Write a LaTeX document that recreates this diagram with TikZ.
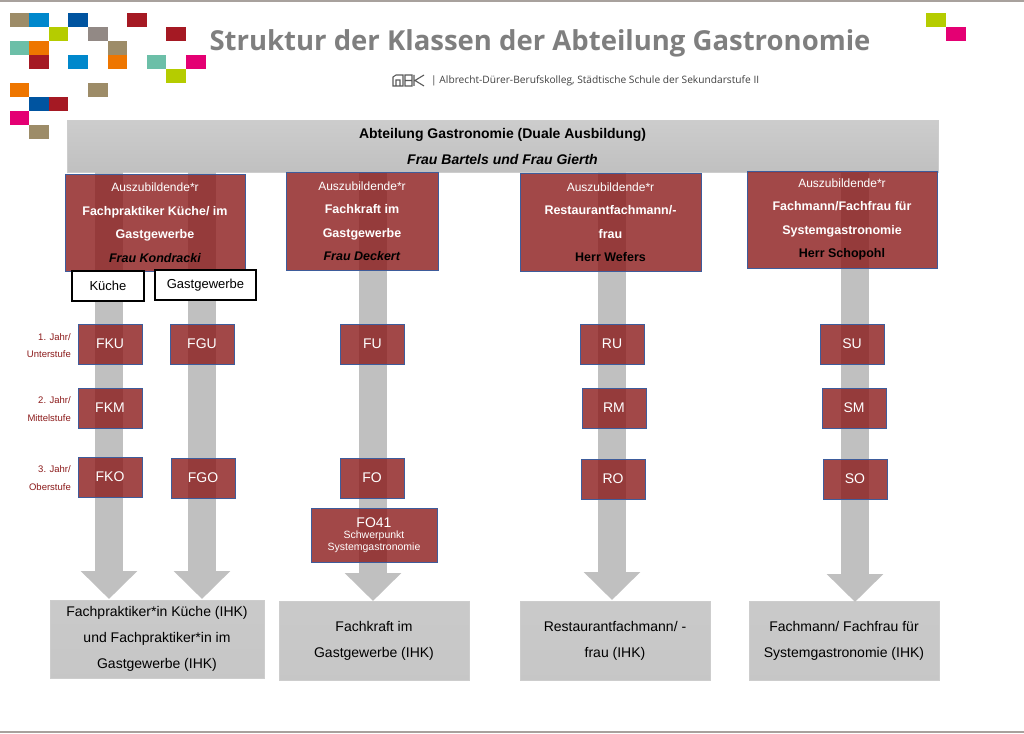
\documentclass[tikz,border=0pt]{standalone}
\usepackage{fontspec}
\setmainfont{Liberation Sans}
\newfontfamily\titlefont{Open Sans}
\usetikzlibrary{arrows.meta}
\definecolor{RedClr}{RGB}{139, 26, 26}
\definecolor{EdgeClr}{RGB}{62, 92, 155}
\definecolor{ArrowClr}{RGB}{192, 192, 192}
\definecolor{TitleClr}{RGB}{127, 127, 127}
\definecolor{TanClr}{RGB}{157, 140, 104}
\definecolor{BlueClr}{RGB}{0, 136, 204}
\definecolor{NavyClr}{RGB}{0, 84, 160}
\definecolor{LimeClr}{RGB}{181, 204, 0}
\definecolor{GrayClr}{RGB}{146, 137, 133}
\definecolor{BrickClr}{RGB}{165, 25, 35}
\definecolor{TealClr}{RGB}{108, 191, 168}
\definecolor{OrangeClr}{RGB}{238, 118, 0}
\definecolor{PinkClr}{RGB}{228, 0, 115}
\tikzset{
  redbox/.style={draw=EdgeClr,line width=1pt,fill=RedClr,fill opacity=.8,text opacity=1,
    text=white,inner sep=0pt,align=center},
  classbox/.style={redbox,font=\fontsize{14}{16}\selectfont,minimum width=64pt,minimum height=40pt},
  whitebox/.style={draw=black,line width=1.6pt,fill=white,inner sep=0pt,
    font=\fontsize{13}{15}\selectfont},
  endbox/.style={top color=ArrowClr!85!white,bottom color=ArrowClr!90!white,draw=ArrowClr!80!white,
    inner sep=0pt,align=center,font=\fontsize{14}{26}\selectfont},
  flowarrow/.style={draw=ArrowClr,line width=28pt,-{Triangle[width=55pt,length=28pt]}},
  yearlabel/.style={inner sep=0pt,align=right,text=RedClr,font=\fontsize{9.5}{17.5}\selectfont}
}
\begin{document}
\begin{tikzpicture}[x=1pt,y=-1pt]
\useasboundingbox (0,0) rectangle (1024,733);

% frame lines
\fill[GrayClr!80] (0,0) rectangle (1024,2);
\fill[GrayClr!80] (0,731) rectangle (1024,733);

% coloured squares
\foreach \cx/\cy/\clr in {0/0/TanClr,1/0/BlueClr,3/0/NavyClr,6/0/BrickClr,2/1/LimeClr,4/1/GrayClr,
  8/1/BrickClr,0/2/TealClr,1/2/OrangeClr,5/2/TanClr,1/3/BrickClr,3/3/BlueClr,5/3/OrangeClr,
  7/3/TealClr,9/3/PinkClr,8/4/LimeClr,0/5/OrangeClr,4/5/TanClr,1/6/NavyClr,2/6/BrickClr,
  0/7/PinkClr,1/8/TanClr}
  \fill[\clr] ({9.5+19.6*\cx},{13+14*\cy}) rectangle +(19.6,14);
\fill[LimeClr] (926,13) rectangle +(20,14);
\fill[PinkClr] (946,27) rectangle +(20,14);

% title
\node[inner sep=0pt,text=TitleClr,font=\titlefont\bfseries\fontsize{27.5}{30}\selectfont] (title) at (540,43) {Struktur der Klassen der Abteilung Gastronomie};
\node[inner sep=0pt,anchor=west,text=black!75,font=\titlefont\fontsize{10.2}{12}\selectfont] (school) at (431,81) {| Albrecht-Dürer-Berufskolleg, Städtische Schule der Sekundarstufe II};

% logo
\draw[black!65,line width=1.1pt] (393,86) -- (393,77) -- (396,75) -- (403,75) -- (403,86) -- cycle
  (396,86) -- (396,80) -- (400,80) -- (400,86)
  (405,75) rectangle (412,86) (405,80.5) -- (412,80.5)
  (414,75) -- (414,86) (424,75) -- (415,80.5) -- (424,86);

% head and result boxes
\node[top color=ArrowClr!80!white,bottom color=ArrowClr,draw=ArrowClr!80!white,inner sep=0pt,align=center,
  minimum width=871pt,minimum height=52pt,font=\bfseries\fontsize{14}{26}\selectfont] (head) at (502.5,146)
  {Abteilung Gastronomie (Duale Ausbildung)\\\textit{Frau Bartels und Frau Gierth}};
\node[endbox,minimum width=214pt,minimum height=78pt] (endK) at (157,639) {Fachpraktiker*in Küche (IHK)\\und Fachpraktiker*in im\\Gastgewerbe (IHK)};
\node[endbox,minimum width=190pt,minimum height=79pt] (endF) at (374,640.5) {Fachkraft im\\Gastgewerbe (IHK)};
\node[endbox,minimum width=190pt,minimum height=79pt] (endR) at (615,640.5) {Restaurantfachmann/ -\\frau (IHK)};
\node[endbox,minimum width=190pt,minimum height=79pt] (endS) at (844,640.5) {Fachmann/ Fachfrau für\\Systemgastronomie (IHK)};

% arrows
\coordinate (tipK) at (109,599);
\coordinate (tipG) at (202,599);
\coordinate (tipF) at (373,601);
\coordinate (tipR) at (612,600);
\coordinate (tipS) at (855,602);
\foreach \tip in {tipK,tipG,tipF,tipR,tipS}
  \draw[flowarrow] (head.south -| \tip) -- (\tip);

% apprentice boxes
\node[redbox,minimum width=180pt,minimum height=97pt] (appK) at (155,222.5) {};
\node[redbox,minimum width=152pt,minimum height=98pt] (appF) at (362,221) {};
\node[redbox,minimum width=181pt,minimum height=98pt] (appR) at (610.5,222) {};
\node[redbox,minimum width=190pt,minimum height=97pt] (appS) at (842,219.5) {};
\foreach \app/\who in {
  appK/{Fachpraktiker Küche/ im\\Gastgewerbe\\\textcolor{black}{\textit{Frau Kondracki}}},
  appF/{Fachkraft im\\Gastgewerbe\\\textcolor{black}{\textit{Frau Deckert}}},
  appR/{Restaurantfachmann/-\\frau\\\textcolor{black}{Herr Wefers}},
  appS/{Fachmann/Fachfrau für\\Systemgastronomie\\\textcolor{black}{Herr Schopohl}}}
  \node[inner sep=0pt,align=center,text=white,font=\bfseries\fontsize{12.5}{23.5}\selectfont] at (\app) {{\mdseries\fontsize{12}{23.5}\selectfont Auszubildende*r}\\\who};

% branches
\node[whitebox,minimum width=72pt,minimum height=30pt] (kueche) at (108,286) {Küche};
\node[whitebox,minimum width=101pt,minimum height=30pt] (gast) at (205.5,285) {Gastgewerbe};

% classes
\foreach \nm/\px/\py in {FKU/110/344,FGU/202/344,FKM/110/408,FKO/110/477,FGO/203/478,
  FU/372.5/344,FO/372/478,RU/612/344,RM/614/408,RO/613/479,SU/852/344,SM/854/408,SO/855/479}
  \node[classbox] (\nm) at (\px,\py) {\nm};
\node[redbox,minimum width=126pt,minimum height=54pt,font=\fontsize{10.5}{11.5}\selectfont] (FOvier) at (374,535)
  {{\fontsize{14}{14}\selectfont FO41}\\Schwerpunkt\\Systemgastronomie};

% years
\node[yearlabel,anchor=east] (jahrU) at (71,345.5) {1. Jahr/\\Unterstufe};
\node[yearlabel,anchor=east] (jahrM) at (71,409) {2. Jahr/\\Mittelstufe};
\node[yearlabel,anchor=east] (jahrO) at (71,478) {3. Jahr/\\Oberstufe};
\end{tikzpicture}
\end{document}
